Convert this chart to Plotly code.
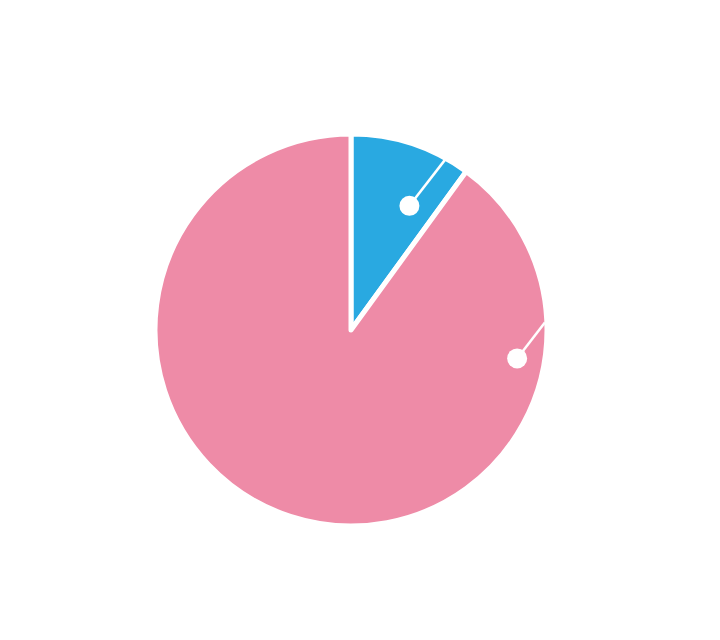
import math
import plotly.graph_objects as go

# slice data
labels = ["Group A", "Group B"]
values = [10, 90]
colors = ["#29A9E1", "#EE8BA7"]

# label anchors (relative radius, angle in degrees clockwise from top)
dot_r = [0.70, 0.86]
dot_theta = [25.2, 99.7]
tip_r = [0.99, 0.99]
tip_theta = [28.9, 87.8]


def to_paper(r, theta):
    # pie fills the square plot area, centre (0.5, 0.5), radius 0.5
    a = math.radians(theta)
    return 0.5 + 0.5 * r * math.sin(a), 0.5 + 0.5 * r * math.cos(a)


fig = go.Figure()

fig.add_trace(go.Pie(
    labels=labels,
    values=values,
    sort=False,
    direction="clockwise",
    rotation=0,
    marker=dict(colors=colors, line=dict(color="white", width=5)),
    textinfo="none",
    hoverinfo="label+percent",
    domain=dict(x=[0, 1], y=[0, 1]),
    showlegend=False,
))

# leader lines and dots, drawn above the pie
shapes = []
dot_rad = 10 / 392  # dot radius in paper units
for i in range(len(labels)):
    x0, y0 = to_paper(dot_r[i], dot_theta[i])
    x1, y1 = to_paper(tip_r[i], tip_theta[i])
    shapes.append(dict(type="line", xref="paper", yref="paper",
                       x0=x0, y0=y0, x1=x1, y1=y1, layer="above",
                       line=dict(color="white", width=2.5)))
    shapes.append(dict(type="circle", xref="paper", yref="paper",
                       x0=x0 - dot_rad, y0=y0 - dot_rad,
                       x1=x0 + dot_rad, y1=y0 + dot_rad, layer="above",
                       fillcolor="white", line=dict(width=0)))

fig.update_layout(
    width=720, height=640,
    margin=dict(l=147, r=181, t=126, b=122),
    paper_bgcolor="white",
    shapes=shapes,
)

fig.write_html("out.html")
